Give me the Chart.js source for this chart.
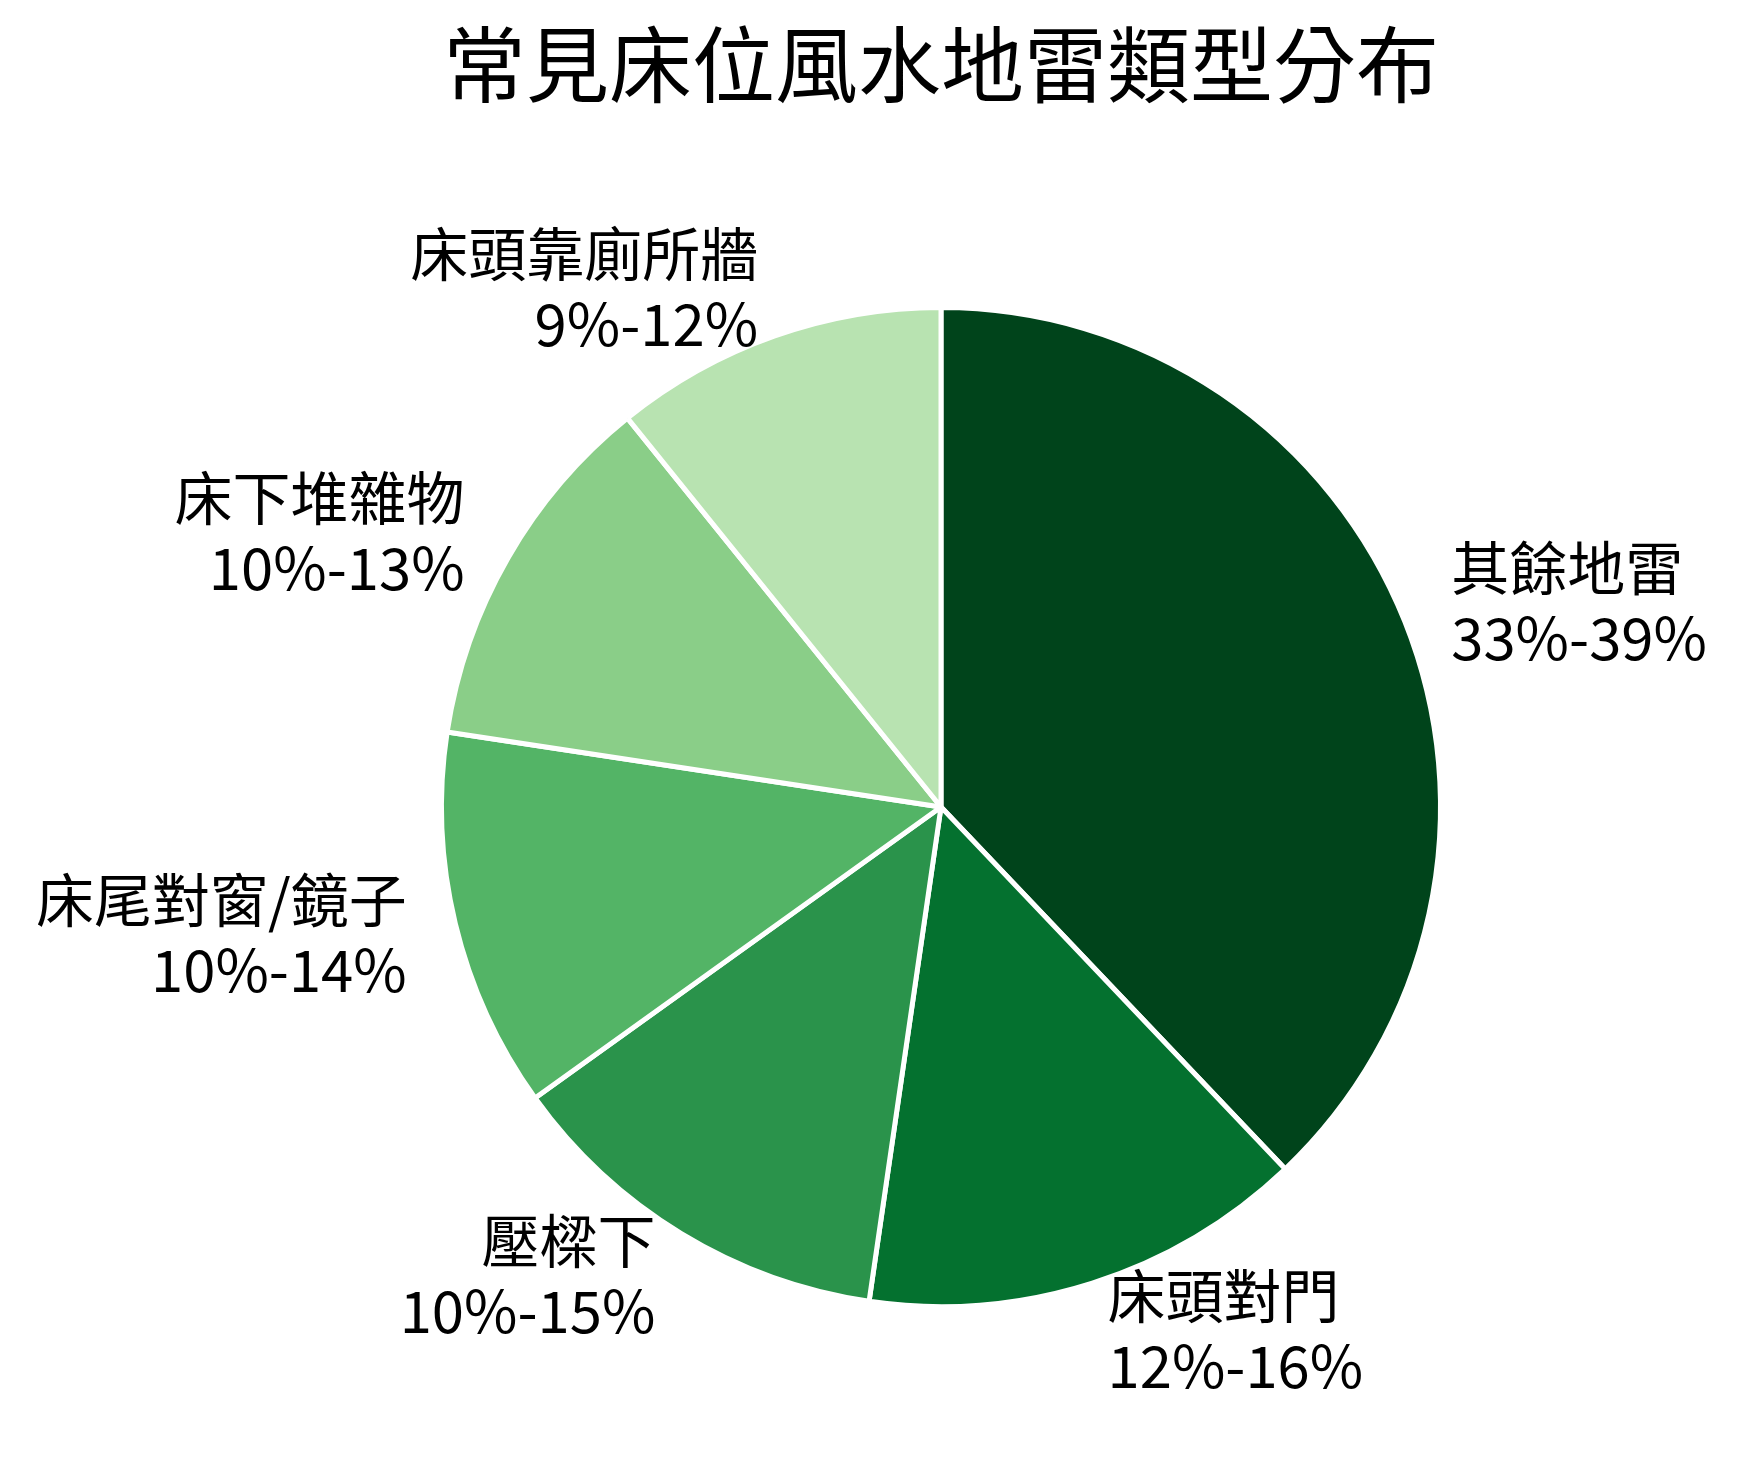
<!DOCTYPE html>
<html>
<head>
<meta charset="utf-8">
<script src="https://cdn.jsdelivr.net/npm/chart.js@4/dist/chart.umd.min.js"></script>
<style>
  body { margin: 0; background: #ffffff; }
  canvas { display: block; }
</style>
</head>
<body>
<canvas id="chart" width="1742" height="1468"></canvas>
<script>
var title_text = "常見床位風水地雷類型分布";
var categories = ["其餘地雷", "床頭對門", "壓樑下", "床尾對窗/鏡子", "床下堆雜物", "床頭靠廁所牆"];
var ranges = ["33%-39%", "12%-16%", "10%-15%", "10%-14%", "10%-13%", "9%-12%"];
var values = [37.9, 14.4, 12.8, 12.3, 11.8, 10.8];
var colors = ["#00441b", "#04712f", "#2a934b", "#53b466", "#8ace88", "#b8e3b1"];

var font_family = "'Noto Sans CJK TC', 'Noto Sans CJK SC', sans-serif";

// draws the title over the pie and the two line labels outside each slice
var pie_labels = {
    id: "pie_labels",
    afterDatasetsDraw: function(chart) {
        var ctx = chart.ctx;
        var arcs = chart.getDatasetMeta(0).data;
        ctx.save();
        ctx.fillStyle = "#000000";

        // title, centred over the pie
        var cx = (chart.chartArea.left + chart.chartArea.right) / 2;
        ctx.font = "83px " + font_family;
        ctx.textAlign = "center";
        ctx.textBaseline = "middle";
        ctx.fillText(title_text, cx, 64);

        ctx.font = "58px " + font_family;
        for (var i = 0; i < arcs.length; i++) {
            var arc = arcs[i];
            var mid = (arc.startAngle + arc.endAngle) / 2;
            var r = arc.outerRadius * 1.1;
            var x = arc.x + Math.cos(mid) * r;
            var y = arc.y + Math.sin(mid) * r;
            ctx.textAlign = Math.cos(mid) < 0 ? "right" : "left";
            ctx.fillText(categories[i], x, y - 35);
            ctx.fillText(ranges[i], x, y + 35);
        }
        ctx.restore();
    }
};

var chart = new Chart(document.getElementById("chart"), {
    type: "pie",
    data: {
        labels: categories,
        datasets: [{
            data: values,
            backgroundColor: colors,
            borderColor: "#ffffff",
            borderWidth: 5
        }]
    },
    options: {
        responsive: false,
        devicePixelRatio: 1,
        animation: false,
        layout: {
            padding: { left: 439, right: 299, top: 305, bottom: 159 }
        },
        plugins: {
            legend: { display: false },
            title: { display: false },
            tooltip: { enabled: false }
        }
    },
    plugins: [pie_labels]
});
</script>
</body>
</html>
